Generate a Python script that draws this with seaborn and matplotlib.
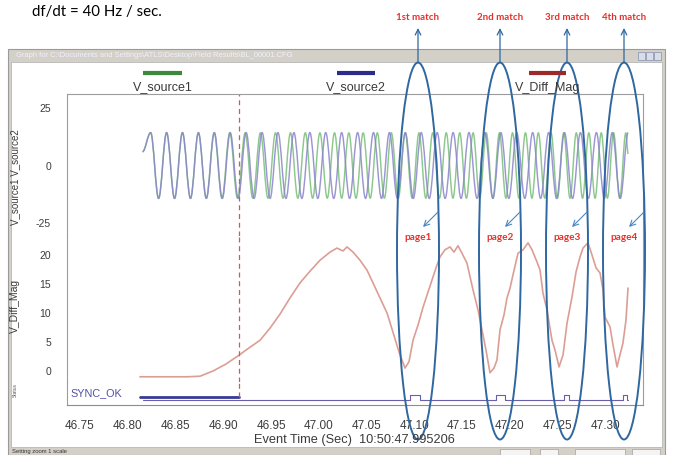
import numpy as np
import matplotlib
matplotlib.use('Agg')
import matplotlib.pyplot as plt
from matplotlib.patches import Rectangle, Ellipse, PathPatch
from matplotlib.path import Path
from matplotlib.colors import LinearSegmentedColormap
from matplotlib.ticker import FixedLocator, MultipleLocator
import seaborn as sns

# ---- values ----
tick_times = [46.75, 46.80, 46.85, 46.90, 46.95, 47.00, 47.05, 47.10, 47.15, 47.20, 47.25, 47.30]
tick_labels = ['46.75', '46.80', '46.85', '46.90', '46.95', '47.00',
               '47.05', '47.10', '47.15', '47.20', '47.25', '47.30']

# V_source2: peaks / troughs of the reference waveform
src2_t = [46.8155, 46.8240, 46.8323, 46.8407, 46.8490, 46.8573, 46.8657, 46.8740, 46.8823,
          46.8907, 46.8990, 46.9073, 46.9157, 46.9240, 46.9323, 46.9407, 46.9490, 46.9573,
          46.9657, 46.9740, 46.9823, 46.9907, 46.9990, 47.0073, 47.0157, 47.0240, 47.0323,
          47.0407, 47.0490, 47.0573, 47.0657, 47.0740, 47.0823, 47.0907, 47.0990, 47.1073,
          47.1157, 47.1240, 47.1323, 47.1407, 47.1490, 47.1573, 47.1657, 47.1740, 47.1823,
          47.1907, 47.1990, 47.2073, 47.2157, 47.2240, 47.2323, 47.2407, 47.2490, 47.2573,
          47.2657, 47.2740, 47.2823, 47.2907, 47.2990, 47.3073, 47.3157, 47.3240]
src2_v = [6.0,
          14.3, -14.3, 14.3, -14.3, 14.3, -14.3, 14.3, -14.3, 14.3, -14.3,
          14.3, -14.3, 14.3, -14.3, 14.3, -14.3, 14.3, -14.3, 14.3, -14.3,
          14.3, -14.3, 14.3, -14.3, 14.3, -14.3, 14.3, -14.3, 14.3, -14.3,
          14.3, -14.3, 14.3, -14.3, 14.3, -14.3, 14.3, -14.3, 14.3, -14.3,
          14.3, -14.3, 14.3, -14.3, 14.3, -14.3, 14.3, -14.3, 14.3, -14.3,
          14.3, -14.3, 14.3, -14.3, 14.3, -14.3, 14.3, -14.3, 14.3, -14.3,
          14.3]

# V_source1: peaks / troughs of the slipping waveform
src1_t = [46.8155, 46.8240, 46.8323, 46.8407, 46.8490, 46.8573, 46.8657,
          46.8740, 46.8823, 46.8905, 46.8987, 46.9068, 46.9149, 46.9229, 46.9309, 46.9389,
          46.9468, 46.9547, 46.9626, 46.9704, 46.9781, 46.9859, 46.9936, 47.0012, 47.0089,
          47.0165, 47.0240, 47.0315, 47.0390, 47.0465, 47.0539, 47.0613, 47.0687, 47.0760,
          47.0833, 47.0905, 47.0978, 47.1050, 47.1121, 47.1193, 47.1264, 47.1335, 47.1405,
          47.1476, 47.1546, 47.1616, 47.1685, 47.1754, 47.1823, 47.1892, 47.1960, 47.2029,
          47.2096, 47.2164, 47.2232, 47.2299, 47.2366, 47.2432, 47.2499, 47.2565, 47.2631,
          47.2697, 47.2762, 47.2828, 47.2893, 47.2958, 47.3022, 47.3087, 47.3151, 47.3215,
          47.3240]
src1_v = [6.0,
          14.3, -14.3, 14.3, -14.3, 14.3, -14.3,
          14.2, -14.2, 14.2, -14.2, 14.2, -14.2, 14.2, -14.2, 14.2, -14.2,
          14.2, -14.2, 14.2, -14.2, 14.2, -14.2, 14.2, -14.2, 14.2, -14.2,
          14.2, -14.2, 14.2, -14.2, 14.2, -14.2, 14.2, -14.2, 14.2, -14.2,
          14.2, -14.2, 14.2, -14.2, 14.2, -14.2, 14.2, -14.2, 14.2, -14.2,
          14.2, -14.2, 14.2, -14.2, 14.2, -14.2, 14.2, -14.2, 14.2, -14.2,
          14.2, -14.2, 14.2, -14.2, 14.2, -14.2, 14.2, -14.2, 14.2, -14.2,
          14.2, -14.2, 14.2,
          5.0]

# V_Diff_Mag
diff_t = [46.8128, 46.8620, 46.8757, 46.8893, 46.9029, 46.9154, 46.9280, 46.9385, 46.9490,
          46.9594, 46.9699, 46.9804, 46.9908, 47.0013, 47.0118, 47.0191, 47.0254, 47.0296,
          47.0359, 47.0432, 47.0505, 47.0568, 47.0641, 47.0715, 47.0777, 47.0840, 47.0903,
          47.0945, 47.0987, 47.1039, 47.1092, 47.1144, 47.1186, 47.1228, 47.1270, 47.1322,
          47.1374, 47.1416, 47.1458, 47.1500, 47.1552, 47.1615, 47.1668, 47.1709, 47.1751,
          47.1793, 47.1835, 47.1866, 47.1898, 47.1940, 47.1971, 47.2003, 47.2034, 47.2086,
          47.2139, 47.2191, 47.2233, 47.2285, 47.2317, 47.2348, 47.2390, 47.2442, 47.2474,
          47.2516, 47.2558, 47.2600, 47.2652, 47.2694, 47.2736, 47.2767, 47.2819, 47.2861,
          47.2903, 47.2945, 47.2976, 47.2997, 47.3050, 47.3081, 47.3123, 47.3154, 47.3185,
          47.3217, 47.3238]
diff_v = [-1.0, -1.0, -0.9, 0.0, 1.2, 2.6, 4.1, 5.3, 7.4,
          9.8, 12.6, 15.2, 17.2, 19.1, 20.5, 21.2, 20.7, 21.4,
          20.5, 19.1, 17.4, 15.2, 12.6, 10.0, 6.7, 3.3, 0.5,
          1.6, 5.3, 7.9, 11.0, 13.6, 15.7, 17.8, 19.7, 20.9,
          21.4, 20.5, 21.6, 20.3, 18.6, 14.0, 10.5, 7.1, 3.6,
          -0.3, 0.5, 1.9, 7.1, 9.7, 12.6, 14.3, 16.6, 20.3,
          20.9, 22.1, 20.9, 18.8, 17.4, 13.4, 10.5, 5.3, 3.6,
          0.7, 2.8, 8.3, 12.8, 17.1, 19.7, 21.2, 22.1, 20.0,
          17.8, 16.9, 14.0, 9.3, 7.6, 4.5, 0.7, 2.8, 4.8,
          8.8, 14.3]

# SYNC_OK digital trace
sync_t = [46.8155, 47.0960, 47.0960, 47.1060, 47.1060, 47.1860, 47.1860, 47.1950, 47.1950,
          47.2570, 47.2570, 47.2620, 47.2620, 47.3190, 47.3190, 47.3230, 47.3230, 47.3240]
sync_v = [0, 0, 1, 1, 0, 0, 1, 1, 0, 0, 1, 1, 0, 0, 1, 1, 0, 0]
trig_t = [46.8128, 46.9165]
trig_v = [0.6, 0.6]
marker_t = 46.9165

match_labels = ['1st match', '2nd match', '3rd match', '4th match']
page_labels = ['page1', 'page2', 'page3', 'page4']

# ---- style ----
sns.set_style('white')
plt.rcParams['font.family'] = ['Liberation Sans', 'DejaVu Sans']
plt.rcParams['axes.unicode_minus'] = False

W, H = 673, 455
fig = plt.figure(figsize=(W / 100, H / 100), dpi=100)
fig.patch.set_facecolor('white')


def pix_axes(x0, y0, x1, y1, z):
    return fig.add_axes([x0 / W, 1 - y1 / H, (x1 - x0) / W, (y1 - y0) / H], zorder=z)


def smooth_wave(ax, ts, vs, color, lw, alpha=1.0):
    # joins consecutive peaks/troughs with flat-tangent curves, like the scope trace
    verts = [(ts[0], vs[0])]
    codes = [Path.MOVETO]
    for i in range(1, len(ts)):
        h = 0.3634 * (ts[i] - ts[i - 1])
        verts += [(ts[i - 1] + h, vs[i - 1]), (ts[i] - h, vs[i]), (ts[i], vs[i])]
        codes += [Path.CURVE4] * 3
    ax.add_patch(PathPatch(Path(verts, codes), fill=False, ec=color, lw=lw, alpha=alpha))


# window chrome (pixel coordinates)
bg = fig.add_axes([0, 0, 1, 1], zorder=0)
bg.axis('off')
bg.add_patch(Rectangle((8, 49), 657, 406, fc='#d4d0c8', ec='#9a9a9a', lw=0.8))
bar_cmap = LinearSegmentedColormap.from_list(
    'bar', [(0, '#2a4888'), (0.55, '#3f63a8'), (0.85, '#7f9fd2'), (1, '#bccde8')])
bg.imshow(np.linspace(0, 1, 256)[None, :], extent=(9, 664, 62, 49), cmap=bar_cmap, aspect='auto')
bg.add_patch(Rectangle((11, 62), 651, 385, fc='white', ec='#b8b8b8', lw=0.6))
for bx in (638, 646, 654):
    bg.add_patch(Rectangle((bx, 51.5), 7, 8, fc='#d8dde8', ec='#6f7fa8', lw=0.4))
bg.text(16, 55.8, r'Graph for C:\Documents and Settings\ATLS\Desktop\Field Results\BL_00001.CFG',
        color='#f0f0ff', fontsize=5.4, va='center', ha='left')
bg.text(12, 451.5, 'Setting zoom 1 scale', color='#333333', fontsize=4.2, va='center')
for bx, bw in ((500, 30), (540, 18), (575, 50), (632, 28)):
    bg.add_patch(Rectangle((bx, 448.5), bw, 6, fc='#f4f4f4', ec='#909090', lw=0.4))
bg.set_xlim(0, W)
bg.set_ylim(H, 0)

# plot panels
ax1 = pix_axes(67, 94, 643, 236, 2)
ax2 = pix_axes(67, 236, 643, 382, 2)
ax3 = pix_axes(67, 382, 643, 405, 2)
xlim = (46.7364, 47.3395)

smooth_wave(ax1, src1_t, src1_v, '#8cc88c', 1.05)
smooth_wave(ax1, src2_t, src2_v, '#8a84cc', 1.05, alpha=0.85)
sns.lineplot(x=diff_t, y=diff_v, ax=ax2, color='#dc9e94', linewidth=1.2,
             estimator=None, sort=False, legend=False)
sns.lineplot(x=sync_t, y=sync_v, ax=ax3, color='#6a5fa8', linewidth=0.8,
             estimator=None, sort=False, legend=False)
sns.lineplot(x=trig_t, y=trig_v, ax=ax3, color='#3a3a96', linewidth=2.0,
             estimator=None, sort=False, legend=False)

ax1.set_ylim(-30.65, 31.09)
ax2.set_ylim(-1.90, 23.28)
ax3.set_ylim(-1.0, 3.6)

spine_c = '#9c9c9c'
for ax in (ax1, ax2, ax3):
    ax.set_xlim(*xlim)
    ax.set_xlabel('')
    ax.set_ylabel('')
    ax.patch.set_alpha(0)
    for s in ax.spines.values():
        s.set_color(spine_c)
        s.set_linewidth(0.8)
    ax.tick_params(axis='y', colors='#8c8c8c', labelcolor='#3c3c3c', labelsize=7.5,
                   direction='out', length=4.5, width=0.6, pad=7)
    ax.tick_params(axis='y', which='minor', colors='#a0a0a0', direction='out',
                   length=2.5, width=0.5)

ax1.spines['bottom'].set_visible(False)
ax2.spines['top'].set_visible(False)
ax2.spines['bottom'].set_visible(False)
ax3.spines['top'].set_visible(False)
ax3.spines['bottom'].set_color('#8a86b0')

ax1.yaxis.set_major_locator(FixedLocator([-25, 0, 25]))
ax1.yaxis.set_minor_locator(MultipleLocator(5))
ax2.yaxis.set_major_locator(FixedLocator([0, 5, 10, 15, 20]))
ax2.yaxis.set_minor_locator(MultipleLocator(1))
ax3.set_yticks([])

for ax in (ax1, ax2):
    ax.tick_params(axis='x', which='both', bottom=False, labelbottom=False)

ax3.xaxis.set_major_locator(FixedLocator(tick_times))
ax3.set_xticklabels(tick_labels)
ax3.xaxis.set_minor_locator(MultipleLocator(0.01))
ax3.tick_params(axis='x', which='major', direction='inout', length=10, width=0.7,
                colors='#9a96b8', labelcolor='#3c3c3c', labelsize=8.5, pad=5.5)
ax3.tick_params(axis='x', which='minor', direction='in', length=4, width=0.6,
                colors='#9a96b8')

# trigger marker
for ax in (ax1, ax2):
    ax.axvline(marker_t, color='#d35a50', lw=0.9, ls=(0, (4, 3)))
ax3.vlines(marker_t, 0.6, 3.6, color='#d35a50', lw=0.9, linestyles=(0, (4, 3)))

# overlay: legend, labels and hand-drawn annotations
fg = pix_axes(0, 0, W, H, 5)
fg.set_xlim(0, W)
fg.set_ylim(H, 0)
fg.axis('off')

for (x0, x1, col, lab) in ((143, 182, '#3b8a3b', 'V_source1'),
                           (337, 375, '#2c2c8c', 'V_source2'),
                           (529, 566, '#9c2a2a', 'V_Diff_Mag')):
    fg.plot([x0, x1], [73, 73], color=col, lw=3, solid_capstyle='butt')
    fg.text((x0 + x1) / 2, 87.5, lab, ha='center', va='center', fontsize=9, color='#3a3a3a')

fg.text(15, 177, 'V_source1 V_source2', rotation=90, ha='center', va='center',
        fontsize=7, color='#3a3a3a')
fg.text(15, 306, 'V_Diff_Mag', rotation=90, ha='center', va='center',
        fontsize=7.5, color='#3a3a3a')
fg.text(15, 390, 'Status', rotation=90, ha='center', va='center', fontsize=3.5, color='#555555')
fg.text(70, 393, 'SYNC_OK', ha='left', va='center', fontsize=7.8, color='#5050a8')
fg.text(354, 440, 'Event Time (Sec)  10:50:47.995206', ha='center', va='center',
        fontsize=9.2, color='#3a3a3a')

fg.text(32, 12, 'df/dt = 40 Hz / sec.', ha='left', va='center', fontsize=10.8,
        family=['Lato', 'DejaVu Sans'], color='black')

ell_c = '#2f67a0'
for cx, ml, pl in zip((418, 500, 567, 624), match_labels, page_labels):
    fg.add_patch(Ellipse((cx, 251), 42, 377, fill=False, ec=ell_c, lw=1.4))
    fg.annotate('', xy=(cx, 28), xytext=(cx, 63),
                arrowprops=dict(arrowstyle='->', color=ell_c, lw=0.9, shrinkA=0, shrinkB=0))
    fg.text(cx, 18, ml, ha='center', va='center', fontsize=7, color='#e8302a',
            fontweight='bold', family=['Lato', 'DejaVu Sans'])
    fg.annotate('', xy=(cx + 5, 227), xytext=(cx + 20, 212),
                arrowprops=dict(arrowstyle='->', color='#4a86c8', lw=0.8, shrinkA=0, shrinkB=0))
    fg.text(cx, 238, pl, ha='center', va='center', fontsize=7.2, color='#e8302a',
            fontweight='bold', family=['Lato', 'DejaVu Sans'])

fig.savefig('out.png', dpi=100)
